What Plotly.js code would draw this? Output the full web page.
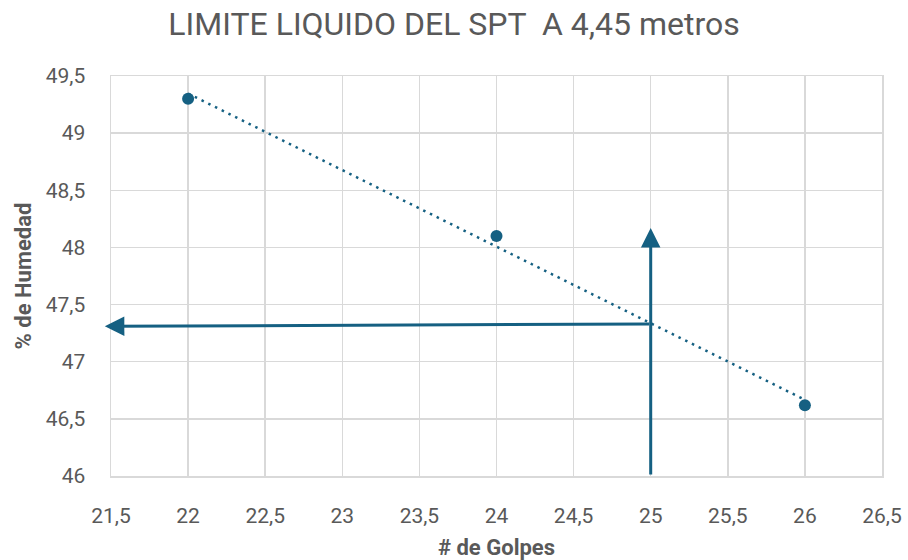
<!DOCTYPE html>
<html>
<head>
<meta charset="utf-8">
<script src="https://cdn.plot.ly/plotly-3.0.1.min.js"></script>
<style>
  html, body { margin: 0; padding: 0; background: #ffffff; }
  #chart { width: 908px; height: 560px; }
</style>
</head>
<body>
<div id="chart"></div>
<script>
// Número de golpes vs. contenido de humedad (ensayo de Casagrande)
const golpes = [22, 24, 26];
const humedad = [49.3, 48.1, 46.62];

// Lectura del límite líquido a 25 golpes
const golpesRef = 25;
const limiteLiquido = 47.33;

const xTicks = [21.5, 22, 22.5, 23, 23.5, 24, 24.5, 25, 25.5, 26, 26.5];
const yTicks = [46, 46.5, 47, 47.5, 48, 48.5, 49, 49.5];

const azul = '#156082';
const gris = '#595959';

// Línea de tendencia lineal (mínimos cuadrados) sobre los puntos medidos
const n = golpes.length;
const mx = golpes.reduce((a, b) => a + b, 0) / n;
const my = humedad.reduce((a, b) => a + b, 0) / n;
let sxy = 0, sxx = 0;
for (let i = 0; i < n; i++) {
  sxy += (golpes[i] - mx) * (humedad[i] - my);
  sxx += (golpes[i] - mx) * (golpes[i] - mx);
}
const pend = sxy / sxx;
const tendX = [golpes[0], golpes[n - 1]];
const tendY = tendX.map(x => my + pend * (x - mx));

const traces = [
  {
    x: tendX, y: tendY, type: 'scatter', mode: 'lines',
    line: { color: azul, width: 2.5, dash: '2.5px,5px' },
    hoverinfo: 'skip', showlegend: false
  },
  {
    x: golpes, y: humedad, type: 'scatter', mode: 'markers',
    marker: { color: azul, size: 12 },
    showlegend: false
  }
];

const layout = {
  width: 908, height: 560,
  paper_bgcolor: '#ffffff', plot_bgcolor: '#ffffff',
  separators: ',.',
  margin: { l: 111, r: 26, t: 76, b: 84 },
  font: { family: 'Roboto, "Open Sans", sans-serif', color: gris },
  title: {
    text: 'LIMITE LIQUIDO DEL SPT  A 4,45 metros',
    font: { size: 32, color: gris, family: 'Roboto, sans-serif' },
    x: 0.5, xref: 'container', xanchor: 'center',
    y: 0.957, yanchor: 'middle'
  },
  xaxis: {
    range: [21.5, 26.5], tickvals: xTicks,
    showgrid: true, gridcolor: '#d9d9d9', gridwidth: 1.5,
    showline: true, linecolor: '#d9d9d9', linewidth: 1.5, mirror: true,
    zeroline: false, ticks: '', ticklabelstandoff: 20,
    tickfont: { size: 21, color: gris },
    title: { text: '# de Golpes', font: { size: 22, color: gris, weight: 'bold' }, standoff: 14 }
  },
  yaxis: {
    range: [46, 49.5], tickvals: yTicks,
    showgrid: true, gridcolor: '#d9d9d9', gridwidth: 1.5,
    showline: true, linecolor: '#d9d9d9', linewidth: 1.5, mirror: true,
    zeroline: false, ticks: '', ticklabelstandoff: 20,
    tickfont: { size: 21, color: gris },
    title: { text: '% de Humedad', font: { size: 22, color: gris, weight: 'bold' }, standoff: 8 }
  },
  annotations: [
    {
      // flecha vertical desde 25 golpes hasta la recta
      x: golpesRef, y: 48.17, xref: 'x', yref: 'y',
      ax: golpesRef, ay: 46, axref: 'x', ayref: 'y',
      text: '', showarrow: true, arrowhead: 2, arrowsize: 1.3,
      arrowwidth: 3, arrowcolor: azul
    },
    {
      // flecha horizontal hacia el eje de humedad
      x: 21.46, y: 47.31, xref: 'x', yref: 'y',
      ax: golpesRef, ay: limiteLiquido, axref: 'x', ayref: 'y',
      text: '', showarrow: true, arrowhead: 2, arrowsize: 1.3,
      arrowwidth: 3, arrowcolor: azul
    }
  ]
};

Plotly.newPlot('chart', traces, layout, { displayModeBar: false, staticPlot: true });
</script>
</body>
</html>
